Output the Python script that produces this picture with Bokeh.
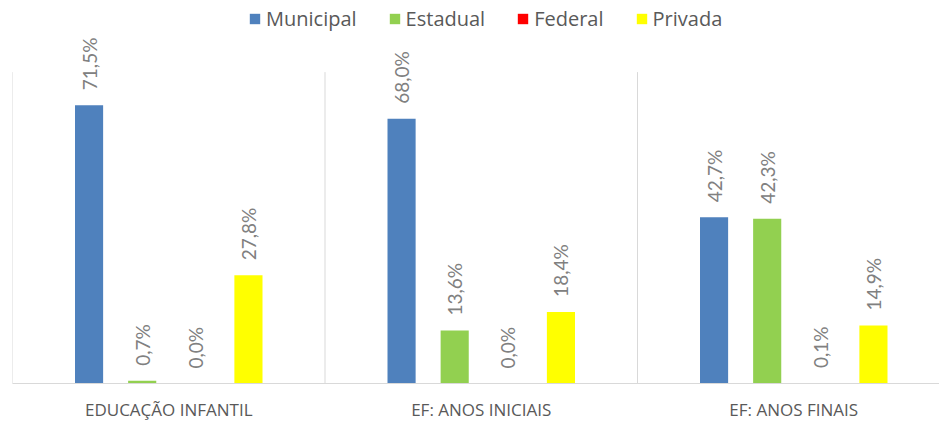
from bokeh.plotting import figure
from bokeh.models import Range1d, FixedTicker, Legend, LegendItem, ColumnDataSource
from bokeh.transform import dodge
from bokeh.core.properties import value
from bokeh.embed import file_html
from bokeh.resources import INLINE
import numpy as np

categories = ["EDUCAÇÃO INFANTIL", "EF: ANOS INICIAIS", "EF: ANOS FINAIS"]
series = ["Municipal", "Estadual", "Federal", "Privada"]
municipal = [71.5, 68.0, 42.7]
estadual = [0.7, 13.6, 42.3]
federal = [0.0, 0.0, 0.1]
privada = [27.8, 18.4, 14.9]
colors = ["#4F81BD", "#92D050", "#FF0000", "#FFFF00"]
axis_max = 80

values = [municipal, estadual, federal, privada]

W, H = 939, 423
left, bottom = 12, 38
px_per_cat = 312.5
frame_w = W - left
frame_h = H - bottom
px_per_unit = 313 / axis_max

p = figure(width=W, height=H, output_backend="svg", toolbar_location=None,
           x_range=Range1d(0, frame_w / px_per_cat),
           y_range=Range1d(0, frame_h / px_per_unit),
           min_border_left=left, min_border_right=0, min_border_top=0,
           min_border_bottom=bottom)
p.outline_line_color = None
p.xgrid.visible = False
p.ygrid.visible = False
p.yaxis.visible = False

centers = [i + 0.5 for i in range(len(categories))]

# category separators
seps = list(range(len(categories) + 1))
p.segment(x0=seps, y0=[0] * len(seps), x1=seps, y1=[axis_max] * len(seps),
          line_color="#D9D9D9", line_width=1)

items = []
step = 0.17
bw = 0.09
for i, (name, vals, col) in enumerate(zip(series, values, colors)):
    src = ColumnDataSource(dict(
        x=centers, top=vals,
        lab=[f"{v:.1f}".replace(".", ",") + "%" for v in vals]))
    off = (i - 1.5) * step
    r = p.vbar(x=dodge("x", off, range=p.x_range), top="top", width=bw, source=src,
               fill_color=col, line_color=None)
    p.text(x=dodge("x", off, range=p.x_range), y="top", text="lab", source=src,
           angle=np.pi / 2, text_align="left", text_baseline="middle",
           y_offset=-15, text_color="#808080", text_font=value("Lato"),
           text_font_size="19px")
    items.append(LegendItem(label=name, renderers=[r]))

legend = Legend(items=items, orientation="horizontal", location=(236, frame_h - 34),
                glyph_width=13, glyph_height=13, label_standoff=5, spacing=31,
                padding=0, margin=0, border_line_color=None, background_fill_alpha=0,
                label_text_font="Open Sans", label_text_font_size="20px",
                label_text_color="#595959", label_height=22)
p.add_layout(legend, "center")

ax = p.xaxis[0]
ax.ticker = FixedTicker(ticks=centers)
ax.major_label_overrides = {c: lab for c, lab in zip(centers, categories)}
ax.axis_line_color = "#D9D9D9"
ax.axis_line_width = 1
ax.major_tick_line_color = None
ax.minor_tick_line_color = None
ax.major_tick_out = 0
ax.major_tick_in = 0
ax.minor_tick_out = 0
ax.major_label_standoff = 14
ax.major_label_text_font = "Open Sans"
ax.major_label_text_font_size = "17px"
ax.major_label_text_color = "#595959"

open("out.html", "w").write(file_html(p, INLINE))
